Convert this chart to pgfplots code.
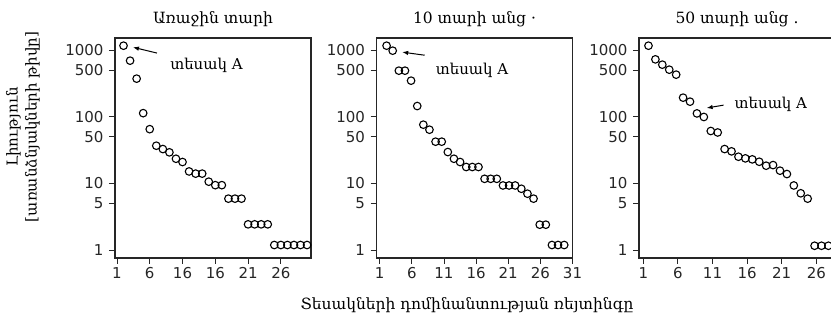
\documentclass[border=0pt]{standalone}
\usepackage{fontspec}
\setmainfont{DejaVu Serif}
\newfontfamily\tickfont{DejaVu Sans}
\usepackage{pgfplots}
\pgfplotsset{compat=1.18}
\usetikzlibrary{arrows.meta}

\pgfplotsset{
  mypanel/.style={
    scale only axis, width=196pt, height=220pt,
    ymin=0.76, ymax=1514,
    ytick={1,5,10,50,100,500,1000},
    yticklabels={1,5,10,50,100,500,1000},
    yminorticks=false,
    tick pos=left, tick align=outside,
    major tick length=6pt,
    axis line style={line width=1.1pt, black!85},
    tick style={line width=0.9pt, black!85},
    ticklabel style={font=\tickfont\fontsize{15}{15}\selectfont, black!85},
    yticklabel style={xshift=-2pt},
    title style={font=\fontsize{15.5}{17}\selectfont, yshift=2pt},
    clip=false,
  },
}
\tikzset{
  mypts/.style={only marks, mark=o, mark size=3.8pt, black, mark options={line width=1.1pt}},
  myann/.style={font=\fontsize{15}{17}\selectfont, anchor=west},
  myarr/.style={-{Latex[length=6pt,width=4.5pt]}, line width=1pt},
}

\begin{document}
\begin{tikzpicture}
% Panel 1
\begin{semilogyaxis}[mypanel, at={(115pt,-38pt)}, anchor=north west,
  xmin=0.7, xmax=30.6, xtick={1,6,11,16,21,26},
  xticklabels={1,6,16,16,21,26},
  title={Առաջին տարի}]
\addplot[mypts] coordinates {
 (2,1161) (3,692) (4,372) (5,113) (6,65) (7,36.7) (8,32.7) (9,29.2) (10,23.4) (11,20.9)
 (12,15.1) (13,14) (14,14) (15,10.6) (16,9.4) (17,9.4) (18,5.9) (19,5.9) (20,5.9)
 (21,2.43) (22,2.43) (23,2.43) (24,2.43)
 (25,1.19) (26,1.19) (27,1.19) (28,1.19) (29,1.19) (30,1.19)};
\draw[myarr] (axis cs:7.1,900) -- (axis cs:3.44,1100);
\node[myann] at (axis cs:8.6,590) {տեսակ A};
\end{semilogyaxis}
% Panel 2
\begin{semilogyaxis}[mypanel, at={(376.5pt,-38pt)}, anchor=north west,
  xmin=0.5, xmax=31, xtick={1,6,11,16,21,26,31},
  xticklabels={1,6,11,16,21,26,31},
  title={10 տարի անց ·}]
\addplot[mypts] coordinates {
 (2.07,1161) (3.02,977) (3.98,490) (4.93,490) (5.88,347) (6.84,144.5) (7.79,75.9) (8.74,63.8)
 (9.69,42.2) (10.65,42.2) (11.60,29.5) (12.55,23.4) (13.51,20.9) (14.46,17.6) (15.41,17.6)
 (16.37,17.6) (17.32,11.7) (18.27,11.7) (19.22,11.7) (20.18,9.3) (21.13,9.3) (22.08,9.3)
 (23.04,8.3) (23.99,7.0) (24.94,5.9) (25.90,2.4) (26.85,2.4) (27.80,1.19) (28.75,1.19) (29.71,1.19)};
\draw[myarr] (axis cs:8.0,835) -- (axis cs:4.5,930);
\node[myann] at (axis cs:9.2,500) {տեսակ A};
\end{semilogyaxis}
% Panel 3
\begin{semilogyaxis}[mypanel, at={(639pt,-38pt)}, anchor=north west,
  xmin=0.38, xmax=28.7, xtick={1,6,11,16,21,26,31},
  xticklabels={1,6,11,16,21,26,31},
  title={50 տարի անց .}]
\addplot[mypts] coordinates {
 (1.75,1161) (2.75,724) (3.75,603) (4.75,507) (5.75,427) (6.75,193) (7.75,168) (8.75,112)
 (9.75,99) (10.75,61) (11.75,58) (12.75,32.7) (13.75,30.2) (14.75,25.1) (15.75,23.7)
 (16.75,22.9) (17.75,21.1) (18.75,18.4) (19.75,18.8) (20.75,15.5) (21.75,13.8) (22.75,9.3)
 (23.75,7.1) (24.75,5.9) (25.75,1.16) (26.75,1.16) (27.75,1.16)};
\draw[myarr] (axis cs:12.6,149) -- (axis cs:10.15,135);
\node[myann] at (axis cs:13.7,155) {տեսակ A};
\end{semilogyaxis}
\node[rotate=90, align=center, font=\fontsize{15}{19}\selectfont] at (23pt,-127pt)
  {Լիություն\\{}[առանձնյակների թիվը]};
\node[font=\fontsize{15.5}{17}\selectfont] at (467pt,-305pt)
  {Տեսակների դոմինանտության ռեյտինգը};
\pgfresetboundingbox
\path[use as bounding box] (0pt,0pt) rectangle (831pt,-326pt);
\end{tikzpicture}
\end{document}
